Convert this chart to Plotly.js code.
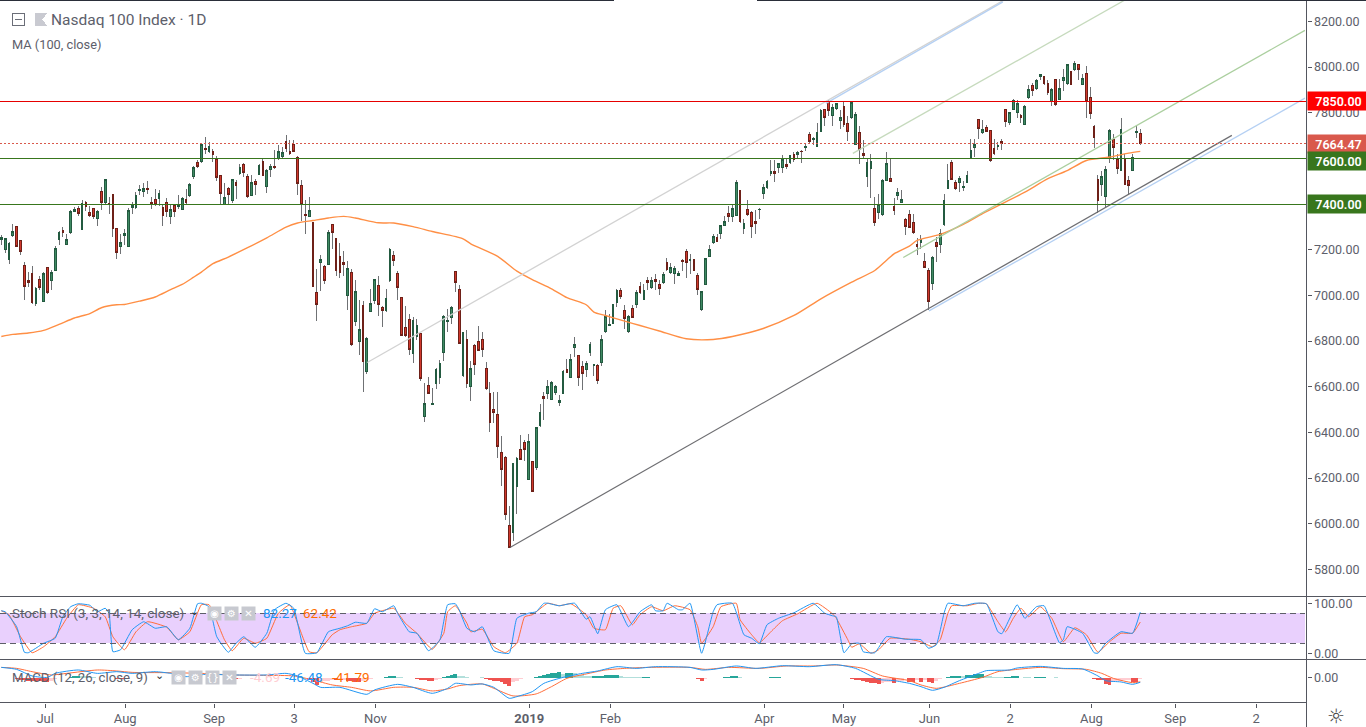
<!DOCTYPE html>
<html><head><meta charset="utf-8">
<script src="https://cdn.plot.ly/plotly-3.0.1.min.js"></script>
<style>html,body{margin:0;padding:0;background:#fff;overflow:hidden}#c{width:1366px;height:727px}
.shapelayer path{shape-rendering:crispEdges}
.trace.boxes path{shape-rendering:crispEdges}
</style>
</head><body><div id="c"></div>
<script>
const open_=[7244,7200,7156,7261,7301,7239,7130,7066,7095,6963,7069,6975,7121,7064,7111,7247,7283,7222,7274,7369,7380,7288,7406,7362,7380,7336,7454,7406,7401,7441,7292,7216,7264,7216,7387,7387,7458,7454,7467,7407,7420,7426,7385,7406,7347,7394,7391,7378,7419,7439,7523,7581,7585,7644,7632,7629,7597,7524,7400,7469,7415,7495,7533,7572,7520,7439,7498,7531,7585,7476,7550,7565,7598,7610,7673,7629,7661,7603,7480,7353,7347,
7318,7012,7146,7125,7136,7309,7248,7169,7144,7001,7099,6887,6800,6955,6668,6931,6979,7042,6946,6936,7066,7174,7095,6990,6858,6893,6747,6822,6832,6471,6604,6521,6612,6639,6752,6887,6902,7104,7025,6647,6806,6600,6779,6797,6806,6679,6569,6499,6477,6311,6289,5991,5963,6165,6324,6355,6195,6271,6248,6432,6558,6572,6546,6576,6533,6569,6674,6642,6771,6736,6689,6677,6752,6692,6692,6704,6841,6870,6876,6968,7020,6933,6841,6942,6958,
7038,6984,7064,7033,7069,7047,7055,7143,7099,7095,7089,7153,7191,7155,7156,7086,6937,7047,7172,7231,7255,7273,7308,7358,7347,7350,7458,7295,7375,7362,7323,7375,7447,7471,7536,7542,7562,7562,7574,7580,7619,7619,7632,7650,7704,7685,7654,7720,7813,7848,7790,7819,7768,7828,7752,7781,7661,7712,7622,7523,7555,7382,7365,7355,7505,7511,7388,7439,7409,7331,7353,7318,7223,7233,7147,7108,7054,7231,7225,7312,
7470,7581,7493,7495,7474,7495,7603,7650,7769,7715,7734,7721,7642,7652,7673,7813,7759,7816,7803,7787,7749,7869,7918,7905,7958,7958,7927,7848,7944,7860,7943,7927,7980,7988,8010,7926,7971,7866,7739,7506,7488,7435,7606,7682,7596,7549,7594,7502,7546,7712,7708];
const high_=[7266,7252,7233,7311,7306,7244,7146,7102,7127,7036,7087,7102,7124,7112,7215,7280,7299,7270,7372,7387,7390,7416,7412,7390,7384,7375,7477,7512,7431,7445,7296,7270,7292,7384,7409,7452,7482,7492,7499,7431,7467,7460,7394,7428,7394,7401,7442,7431,7467,7492,7565,7591,7667,7693,7674,7642,7610,7527,7492,7474,7512,7504,7577,7580,7533,7526,7511,7577,7603,7555,7577,7638,7657,7650,7701,7682,7679,7609,7506,7416,7431,
7321,7117,7179,7131,7288,7314,7252,7229,7194,7149,7117,7066,6978,6974,6817,7029,7073,7083,6952,7026,7207,7194,7105,6993,6952,6917,6905,6898,6835,6616,6642,6594,6682,6718,6915,6941,6952,7106,7044,6839,6850,6711,6788,6867,6839,6709,6620,6576,6575,6382,6295,6076,6266,6292,6387,6365,6394,6274,6423,6525,6576,6631,6623,6609,6562,6674,6720,6744,6817,6737,6712,6711,6798,6698,6698,6825,6934,6920,6963,7029,7033,6956,6915,6956,7022,
7058,7048,7080,7080,7095,7066,7102,7163,7143,7127,7109,7158,7204,7182,7161,7098,7019,7165,7219,7267,7267,7309,7350,7390,7394,7504,7463,7336,7416,7368,7375,7382,7486,7506,7591,7591,7582,7617,7596,7617,7628,7632,7638,7669,7715,7693,7755,7817,7817,7857,7839,7845,7810,7847,7788,7848,7803,7744,7679,7603,7620,7433,7445,7509,7626,7603,7426,7471,7460,7339,7372,7358,7252,7263,7185,7120,7171,7255,7292,7445,
7574,7594,7504,7525,7499,7547,7686,7686,7769,7769,7745,7723,7686,7671,7686,7817,7803,7861,7857,7793,7832,7923,7930,7949,7971,7963,7942,7908,7949,7949,7993,8015,7985,8026,8012,7971,8003,7915,7745,7528,7543,7565,7727,7708,7620,7778,7620,7521,7620,7740,7730];
const low_=[7222,7187,7136,7258,7212,7175,6981,7036,6963,6955,7022,6971,7007,7022,7106,7219,7258,7219,7270,7365,7346,7285,7369,7343,7336,7302,7375,7401,7358,7255,7160,7180,7219,7212,7355,7380,7438,7431,7445,7380,7390,7390,7306,7343,7311,7343,7380,7372,7401,7431,7511,7558,7581,7620,7623,7584,7499,7401,7397,7401,7406,7423,7526,7518,7428,7434,7442,7526,7523,7448,7518,7555,7594,7598,7628,7613,7628,7438,7328,7270,7343,
7039,6890,7019,7048,7131,7204,7083,7077,7087,6934,6778,6868,6741,6576,6654,6927,6963,6909,6861,6927,7058,7128,6982,6822,6817,6741,6704,6803,6623,6445,6566,6521,6588,6610,6712,6839,6873,7014,6785,6642,6594,6537,6650,6759,6730,6584,6401,6441,6289,6165,6017,5895,5924,6041,6280,6274,6192,6139,6233,6423,6455,6547,6543,6562,6514,6566,6660,6638,6730,6601,6584,6642,6733,6645,6613,6690,6835,6868,6873,6949,6985,6854,6836,6902,6946,
7007,6978,7022,7029,7025,7000,7051,7106,7095,7048,7083,7109,7076,7095,7106,7000,6931,7044,7168,7226,7233,7248,7302,7321,7321,7346,7318,7267,7346,7251,7270,7336,7422,7467,7521,7496,7536,7536,7555,7574,7584,7603,7580,7632,7664,7657,7653,7715,7744,7784,7744,7810,7727,7737,7676,7774,7658,7577,7598,7474,7426,7304,7336,7350,7502,7498,7353,7416,7409,7266,7296,7270,7175,7204,7121,6934,7025,7146,7185,7302,
7467,7504,7460,7455,7457,7492,7598,7606,7683,7708,7715,7584,7617,7635,7639,7737,7745,7813,7778,7756,7746,7861,7873,7898,7944,7920,7880,7829,7831,7854,7895,7923,7921,7985,7942,7920,7777,7771,7645,7360,7435,7384,7581,7594,7530,7544,7485,7438,7543,7689,7661];
const close_=[7252,7248,7226,7279,7216,7194,7038,7058,6968,7029,7036,7095,7012,7101,7206,7274,7277,7244,7366,7375,7358,7401,7388,7349,7347,7369,7406,7507,7398,7295,7190,7231,7270,7372,7394,7436,7463,7467,7464,7403,7398,7447,7352,7369,7375,7369,7394,7423,7409,7486,7559,7566,7661,7641,7652,7619,7518,7448,7429,7444,7507,7483,7559,7540,7432,7495,7488,7568,7527,7546,7565,7562,7629,7625,7642,7623,7632,7489,7398,7349,7371,
7041,6962,7156,7067,7276,7277,7111,7102,7137,7117,6787,7016,6849,6712,6812,6963,7068,6962,6936,6985,7200,7155,7036,6826,6826,6765,6889,6867,6638,6525,6572,6525,6674,6701,6909,6890,6946,7058,6791,6836,6612,6679,6699,6760,6765,6590,6445,6489,6340,6239,6042,5896,6263,6284,6283,6327,6359,6143,6420,6486,6550,6600,6617,6601,6539,6666,6664,6718,6784,6642,6657,6701,6784,6698,6629,6806,6906,6873,6959,7020,6993,6901,6909,6905,7012,
7014,7020,7055,7064,7060,7032,7090,7112,7121,7117,7095,7150,7146,7158,7111,7025,7016,7160,7200,7257,7238,7305,7323,7347,7380,7493,7323,7314,7353,7304,7317,7378,7474,7498,7542,7536,7577,7596,7565,7612,7594,7628,7629,7653,7676,7688,7712,7809,7781,7810,7825,7841,7780,7750,7720,7845,7791,7639,7615,7581,7587,7321,7400,7504,7577,7501,7374,7450,7419,7304,7299,7274,7213,7245,7124,6975,7166,7216,7273,7415,
7504,7509,7470,7511,7477,7524,7634,7661,7733,7725,7720,7591,7623,7655,7666,7763,7800,7855,7839,7781,7826,7901,7896,7940,7966,7927,7888,7901,7835,7905,7953,8010,7926,8015,7988,7949,7850,7799,7690,7415,7520,7550,7723,7647,7558,7725,7487,7483,7603,7717,7664.47];
const bars=close_.map((_,i)=>i);
const bodyHigh=close_.map((c,i)=>Math.max(c,open_[i]));
const bodyLow=close_.map((c,i)=>Math.min(c,open_[i]));

const maIdx=[0,3,7,11,15,19,23,26,30,32,36,40,44,47,50,52,55,59,64,69,74,77,81,85,89,92,98,102,107,112,120,122,129,134,138,143,147,152,154,157,162,166,171,178,185,190,198,206,213,221,227,230,232,236,238,244,250,255,260,266,272,277,282,288,293,296];
const maVal=[6820,6829,6835,6847,6873,6901,6920,6946,6959,6960,6975,6993,7025,7048,7080,7102,7139,7168,7209,7252,7299,7317,7328,7339,7346,7339,7318,7317,7301,7280,7248,7226,7171,7106,7069,7029,6990,6959,6927,6912,6887,6868,6844,6810,6807,6820,6855,6912,6985,7058,7109,7153,7182,7216,7241,7267,7311,7358,7401,7452,7511,7547,7591,7606,7623,7631];

const levels=[7850,7664.47,7600,7400];
const yTicks=[5800,6000,6200,6400,6600,6800,7000,7200,7400,7600,7800,8000,8200];
const tickBars=[11.4,32.2,55.3,76.1,97.2,137.2,158.3,198.3,219,241.2,262.2,283.3,305.1,326.1];
const tickLabels=['Jul','Aug','Sep','3','Nov','<b>2019</b>','Feb','Apr','May','Jun','2','Aug','Sep','2'];

const darkX=[132.2,319.8],darkY=[5896,7701];
const blueLowX=[241.1,338.8],blueLowY=[6932,7864];
const blueTopX=[214.3,260.3],blueTopY=[7841,8286];
const grayX=[95.1,260.4],grayY=[6706,8292];
const paleGreenX=[221.3,291.8],paleGreenY=[7622,8292];
const greenX=[234.4,338.8],greenY=[7166,8161];

const kIdx=[0,1,4,6,7,11,14,16,18,20,23,25,27,28,29,31,34,37,40,43,46,49,51,52,54,56,59,61,63,66,69,71,74,76,79,82,85,88,90,92,95,97,99,102,103,106,108,111,112,114,116,118,119,121,123,125,128,132,134,137,139,141,142,145,149,152,153,155,157,160,163,166,169,170,172,173,176,177,179,182,185,186,190,193,195,197,199,202,206,211,214,216,217,219,221,223,224,227,230,235,239,241,243,245,246,250,253,256,259,260,264,266,269,271,275,276,277,281,284,285,287,291,294,296];
const kVal=[85,83,53,2,1,20,30,73,93,99,96,83,90,80,3,7,47,63,50,53,27,50,99,100,93,33,2,20,33,12,40,87,100,90,0,1,43,50,55,62,60,89,83,95,80,43,40,5,10,27,97,99,87,50,43,53,5,0,70,80,83,100,100,95,100,68,73,39,87,97,53,83,97,85,85,100,87,87,100,0,83,97,100,37,30,19,57,70,81,100,80,75,73,1,19,20,3,1,33,28,27,10,17,80,100,95,100,99,43,39,97,70,93,95,21,27,53,40,1,0,20,43,40,82.27];
const dIdx=[0,2,5,8,11,14,17,20,24,27,29,32,35,38,43,46,49,52,54,58,60,63,66,69,72,75,77,80,82,86,88,91,95,97,99,102,105,108,112,115,116,118,121,122,125,128,131,134,136,138,142,145,148,152,154,157,159,161,164,166,169,172,175,179,181,182,185,187,191,192,195,197,200,203,207,212,216,217,220,221,223,226,228,231,236,239,242,244,246,247,251,254,256,259,261,263,265,267,270,273,276,279,282,285,288,291,294,296];
const dVal=[85,77,33,1,13,33,70,97,90,73,33,7,43,63,52,27,43,97,97,27,5,30,20,30,80,97,60,3,1,37,47,53,60,80,85,90,60,40,8,40,83,95,60,43,48,13,1,20,73,77,100,95,99,77,50,47,90,95,57,77,93,85,95,87,53,20,53,93,100,67,37,21,43,65,79,100,79,70,27,12,19,0,7,30,28,23,13,27,80,95,95,100,99,63,43,70,90,73,93,70,23,51,37,2,23,40,40,62.42];

const macdIdx=[0,4,8,12,14,20,25,30,34,40,44,48,53,60,69,74,77,81,83,88,95,97,103,107,112,116,118,122,125,128,132,134,138,141,146,151,155,160,165,170,179,182,185,191,196,203,210,217,222,228,232,236,239,242,245,249,254,256,262,264,270,276,281,285,287,291,294,296];
const macdVal=[103,83,17,3,43,77,43,60,43,60,43,10,33,27,27,43,17,-57,-97,-97,-167,-123,-67,-97,-157,-107,-57,-73,-63,-97,-207,-190,-140,-57,3,43,67,110,93,110,103,77,83,117,93,120,110,130,93,-17,-30,-57,-90,-127,-97,-30,43,70,77,97,113,93,87,17,-30,-43,-67,-46.48];
const sigIdx=[0,4,8,13,17,25,30,34,43,52,60,69,76,81,86,91,96,102,107,112,116,119,125,128,133,139,143,147,152,157,162,168,179,183,189,197,204,211,217,224,229,236,239,243,249,255,259,264,270,276,282,286,289,294,296];
const sigVal=[103,93,60,27,43,77,67,53,50,43,27,23,17,-23,-73,-97,-133,-97,-97,-133,-113,-80,-63,-107,-183,-163,-90,-7,37,77,93,103,103,83,103,93,117,117,127,93,17,-30,-73,-107,-57,3,60,83,103,90,83,43,-7,-50,-41.79];
const histIdx=[4,5,6,7,8,9,10,11,12,13,14,18,19,20,21,22,23,24,29,30,31,32,33,41,42,43,60,61,62,63,64,65,80,81,82,83,84,85,86,87,88,89,90,91,92,93,94,95,96,97,100,101,102,103,104,106,108,109,110,111,112,113,114,115,116,117,118,119,120,121,125,126,127,128,129,130,131,132,133,134,135,136,137,138,139,140,141,142,143,144,145,146,147,148,149,150,151,152,153,154,155,156,157,158,159,160,161,162,163,164,165,166,167,168,175,177,178,179,180,181,182,183,184,185,188,189,190,191,192,194,195,196,197,198,200,201,202,218,219,220,221,222,223,224,225,226,227,228,229,230,231,232,233,234,236,237,238,239,240,241,242,243,244,245,246,247,248,249,250,251,252,253,254,255,256,257,258,259,260,261,262,263,264,266,267,269,270,271,274,275,276,277,278,279,280,281,282,283,284,285,286,287,288,289,290,291,292,293,294,295,296];
const histVal=[-10,-20,-25,-30,-35,-38,-38,-38,-40,-30,-15,10,15,20,18,15,10,8,-8,-12,-15,-18,-14,-5,-6,-8,-15,-18,-10,-8,-6,-5,-25,-45,-73,-40,-35,-30,-28,-28,-25,-22,-30,-36,-40,-42,-38,-20,-12,-8,10,12,15,8,5,-3,-15,-20,-25,-30,-35,-25,-12,10,18,28,33,20,12,5,3,-10,-20,-30,-38,-48,-60,-82,-45,-30,-15,-5,-3,-5,5,15,25,35,45,50,55,40,45,45,42,30,25,20,15,15,18,20,22,24,24,25,15,10,7,5,4,3,3,3,-4,-5,-6,-7,-8,-10,-30,-12,-8,-4,5,8,12,14,4,-4,-5,-6,-4,-3,4,5,5,-5,-6,-7,-15,-20,-25,-33,-40,-50,-57,-67,-55,-45,-40,-50,-35,-30,-40,-42,-25,-43,-28,-47,-50,-30,-12,-5,8,15,18,20,12,25,30,33,35,37,15,12,10,6,5,5,8,12,14,4,3,3,3,3,2,-3,-4,-5,-3,-3,-2,-2,-4,-5,-15,-20,-25,-60,-70,-40,-35,-30,-28,-25,-40,-42,-15,-10,-4.69];
const histColor=histVal.map((v,k)=>{const p=k?histVal[k-1]:0;return v>=0?(v>=p?'#26a69a':'#b2dfdb'):(v<=p?'#ef5350':'#ffcdd2');});

const px=x=>x/1366, py=y=>1-y/727;
const FONT='Roboto, sans-serif', TXT='#5d606b';
const R=1306.5;

const line=(x,y,color,yaxis,width,smooth)=>({type:'scatter',mode:'lines',x,y,yaxis:yaxis||'y',xaxis:'x',line:{color,width:width||1,shape:smooth?'spline':'linear',smoothing:smooth||0},hoverinfo:'skip',showlegend:false});
const traces=[
 {type:'candlestick',x:bars,open:open_,high:high_,low:low_,close:close_,xaxis:'x',yaxis:'y',whiskerwidth:0,
  increasing:{line:{color:'#6f7174',width:1},fillcolor:'#3f8a63'},decreasing:{line:{color:'#6f7174',width:1},fillcolor:'#d0382c'},hoverinfo:'skip',showlegend:false},
 {type:'candlestick',x:bars,open:open_,high:bodyHigh,low:bodyLow,close:close_,xaxis:'x',yaxis:'y',whiskerwidth:0,
  increasing:{line:{color:'#235a40',width:1},fillcolor:'#3f8a63'},decreasing:{line:{color:'#6e2018',width:1},fillcolor:'#d0382c'},hoverinfo:'skip',showlegend:false},
 line(maIdx,maVal,'#ff8f45','y',1.4,0.7),
 line(grayX,grayY,'#d2d2d2','y',1.3),
 line(blueTopX,blueTopY,'#b5d0f3','y',1.3),
 line(paleGreenX,paleGreenY,'#c6dabd','y',1.3),
 line(greenX,greenY,'#abcf9f','y',1.3),
 line(blueLowX,blueLowY,'#b5d0f3','y',1.3),
 line(darkX,darkY,'#6e6e72','y',1.2),
 line(dIdx,dVal,'#ff6d3a','y2',1,0.4),
 line(kIdx,kVal,'#2196f3','y2',1,0.4),
 {type:'bar',x:histIdx,y:histVal,xaxis:'x',yaxis:'y3',width:1,marker:{color:histColor,line:{width:0}},hoverinfo:'skip',showlegend:false},
 line(sigIdx,sigVal,'#ff6d3a','y3',1,0.6),
 line(macdIdx,macdVal,'#2196f3','y3',1,0.6)
];

const hLine=(yv,color,dash)=>({type:'line',xref:'paper',x0:0,x1:R/1366,yref:'y',y0:yv,y1:yv,line:{color,width:1,dash:dash||'solid'}});
const pxLine=(x0,y0,x1,y1,color,width)=>({type:'line',xref:'paper',yref:'paper',x0:px(x0),x1:px(x1),y0:py(y0),y1:py(y1),line:{color,width:width||1}});
const shapes=[
 {type:'rect',xref:'paper',x0:0,x1:1305/1366,yref:'y2',y0:20,y1:80,fillcolor:'#e9d0fd',line:{width:0},layer:'below'},
 {type:'line',xref:'paper',x0:0,x1:1305/1366,yref:'y2',y0:80,y1:80,line:{color:'#5d5f68',width:1,dash:'6px,4px'}},
 {type:'line',xref:'paper',x0:0,x1:1305/1366,yref:'y2',y0:20,y1:20,line:{color:'#5d5f68',width:1,dash:'6px,4px'}},
 hLine(levels[0],'#e60000'),
 hLine(levels[1],'#d9594c','2px,2px'),
 hLine(levels[2],'#38761d'),
 hLine(levels[3],'#38761d'),
 pxLine(0,596.5,1366,596.5,'#54565f',1),
 pxLine(0,659.5,1366,659.5,'#54565f',1),
 pxLine(0,702.5,1307,702.5,'#54565f',1),
 pxLine(1306.5,0,1306.5,727,'#54565f',1),
 pxLine(0,0.5,614,0.5,'#2a2e39',1),
 pxLine(757,0.5,1366,0.5,'#2a2e39',1),
 {type:'rect',xref:'paper',yref:'paper',x0:px(12.5),x1:px(24.5),y0:py(25),y1:py(13.5),line:{color:'#6b6e78',width:1},fillcolor:'rgba(0,0,0,0)'},
 pxLine(15,19.5,22,19.5,'#6b6e78',1),
 {type:'path',xref:'paper',yref:'paper',path:`M ${px(35)} ${py(13)} L ${px(47)} ${py(13)} L ${px(42.5)} ${py(19.5)} L ${px(47)} ${py(26)} L ${px(35)} ${py(26)} Z`,fillcolor:'#c9cad1',line:{width:0}}
];

const ann=(text,x,y,color,size,extra)=>Object.assign({text,xref:'paper',yref:'paper',x:px(x-2),y:py(y),xanchor:'left',yanchor:'middle',showarrow:false,font:{family:FONT,size:size||12.5,color:color||TXT}},extra||{});
const priceTag=(v,text,bg,ys)=>({text,xref:'paper',yref:'y',x:px(1306.8),y:v,yshift:ys||0,xanchor:'left',yanchor:'middle',showarrow:false,width:59,height:16,bgcolor:bg,borderpad:1,align:'center',font:{family:FONT,size:12.5,color:'#fff',weight:600}});
const icon=(g,x,y)=>ann(g,x,y,'#fff',11,{x:px(x),xanchor:'center',width:13,height:13,bgcolor:'#c7c9d0',borderpad:0,align:'center',font:{family:'DejaVu Sans',size:10,color:'#fff'}});
const annotations=[
 ann('Nasdaq 100 Index · 1D',51,20,'#5d606b',15.5),
 ann('MA (100, close)',12,44,'#5d606b',12.8),
 ann('Stoch RSI (3, 3, 14, 14, close)',12,613,'#5d606b',13.5),
 ann('⌄',190,611,'#333',11),
 icon('◉',214,613),icon('⚙',231,613),icon('✕',248,613),
 ann('82.27',263,613,'#2196f3',13.5),
 ann('62.42',303,613,'#ff6d00',13.5),
 ann('MACD (12, 26, close, 9)',12,677,'#5d606b',13.2),
 ann('⌄',155,675,'#333',11),
 icon('◉',178,677),icon('⚙',195,677),icon('{}',212,677),icon('✕',229,677),
 ann('-4.69',250,677,'#ffcdd2',13.5),
 ann('-46.48',285,677,'#2196f3',13.5),
 ann('-41.79',332,677,'#ff6d00',13.5),
 priceTag(levels[0],'7850.00','#ff0000'),
 priceTag(levels[1],'7664.47','#d9594c'),
 priceTag(levels[2],'7600.00','#38761d',-3),
 priceTag(levels[3],'7400.00','#38761d'),
 ann('☼',1336,716,'#444',20,{x:px(1336),xanchor:'center',font:{family:'DejaVu Sans',size:20,color:'#444'}})
];

const yCommon={side:'right',anchor:'x',showgrid:false,zeroline:false,showline:false,ticks:'outside',ticklen:4,tickcolor:'#54565f',tickfont:{family:FONT,size:12.5,color:TXT},fixedrange:true,automargin:false};
const layout={
 width:1366,height:727,paper_bgcolor:'#fff',plot_bgcolor:'#fff',showlegend:false,dragmode:false,
 margin:{l:0,r:0,t:0,b:0},boxgap:0.35,bargap:0,barmode:'overlay',
 xaxis:{type:'linear',domain:[0,R/1366],range:[-0.34,339.2],anchor:'y3',showgrid:false,zeroline:false,showline:false,
   rangeslider:{visible:false},tickmode:'array',tickvals:tickBars,ticktext:tickLabels,ticks:'outside',ticklen:4,tickcolor:'#54565f',
   tickfont:{family:FONT,size:13,color:TXT},fixedrange:true,automargin:false},
 yaxis:Object.assign({},yCommon,{domain:[py(596.5),1],range:[5681,8294],tickmode:'array',tickvals:yTicks,ticktext:yTicks.map(v=>v.toFixed(2))}),
 yaxis2:Object.assign({},yCommon,{domain:[py(659.5),py(597)],range:[-12.5,112.5],tickmode:'array',tickvals:[0,100],ticktext:['0.00','100.00']}),
 yaxis3:Object.assign({},yCommon,{domain:[py(702.5),py(660)],range:[-249,177],tickmode:'array',tickvals:[0],ticktext:['0.00']}),
 shapes,annotations
};
Plotly.newPlot('c',traces,layout,{displayModeBar:false,responsive:false,staticPlot:true});
</script></body></html>
